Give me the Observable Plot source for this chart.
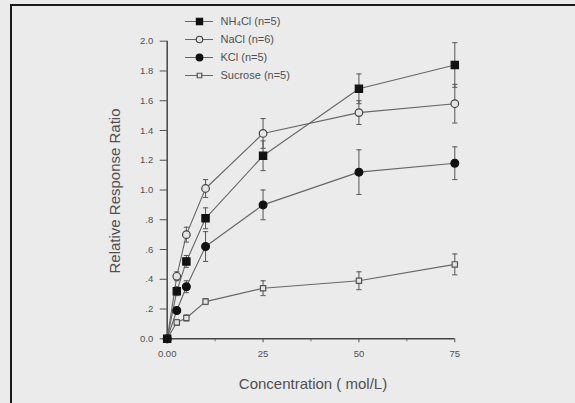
<!DOCTYPE html>
<html>
<head>
<meta charset="utf-8">
<script src="https://cdn.jsdelivr.net/npm/d3@7"></script>
<script src="https://cdn.jsdelivr.net/npm/@observablehq/plot@0.6"></script>
<style>
  html, body { margin: 0; padding: 0; background: #ebebeb; }
  #wrap { position: relative; width: 575px; height: 403px; overflow: hidden; background: #ebebeb; font-family: "Liberation Sans", Arial, sans-serif; }
  #frame { position: absolute; left: 10px; top: 4px; right: -5px; bottom: -5px; border-top: 2px solid #1a1a1a; border-left: 2px solid #1a1a1a; }
  #chart, #legend { position: absolute; left: 0; top: 0; }
  #legend { left: 170px; }
  svg { background: transparent !important; }
</style>
</head>
<body>
<div id="wrap">
  <div id="frame"></div>
  <div id="chart"></div>
  <div id="legend"></div>
</div>
<script>
// Concentrations (mol/L x axis values)
const conc = [0, 2.5, 5, 10, 25, 50, 75];
const seriesNames = ["NH\u2084Cl (n=5)", "NaCl (n=6)", "KCl (n=5)", "Sucrose (n=5)"];

// Relative response ratio means
const nh4cl   = [0, 0.32, 0.52, 0.81, 1.23, 1.68, 1.84];
const nacl    = [0, 0.42, 0.70, 1.01, 1.38, 1.52, 1.58];
const kcl     = [0, 0.19, 0.35, 0.62, 0.90, 1.12, 1.18];
const sucrose = [0, 0.11, 0.14, 0.25, 0.34, 0.39, 0.50];

// Error (half-range of error bars)
const nh4clErr   = [0, 0.03, 0.04, 0.07, 0.10, 0.10, 0.15];
const naclErr    = [0, 0.03, 0.05, 0.06, 0.10, 0.08, 0.13];
const kclErr     = [0, 0.02, 0.04, 0.10, 0.10, 0.15, 0.11];
const sucroseErr = [0, 0.02, 0.02, 0.02, 0.05, 0.06, 0.07];

const yTicks = [0, 0.2, 0.4, 0.6, 0.8, 1.0, 1.2, 1.4, 1.6, 1.8, 2.0];
const xTicks = [0, 25, 50, 75];
const xMinorTicks = [12.5, 37.5, 62.5];

const allValues = [nh4cl, nacl, kcl, sucrose];
const allErrs = [nh4clErr, naclErr, kclErr, sucroseErr];

const rows = [];
seriesNames.forEach((s, i) => {
  conc.forEach((c, j) => {
    rows.push({series: s, x: c, y: allValues[i][j], err: allErrs[i][j]});
  });
});

const capSymbol = {
  draw(context, size) {
    const h = Math.sqrt(size / Math.PI);
    context.moveTo(-h, 0);
    context.lineTo(h, 0);
  }
};

const styles = {
  [seriesNames[0]]: {symbol: "square", fill: "#111", stroke: "#111", r: 4.1},
  [seriesNames[1]]: {symbol: "circle", fill: "#e4e4e4", stroke: "#444", r: 3.8},
  [seriesNames[2]]: {symbol: "circle", fill: "#111", stroke: "#111", r: 3.9},
  [seriesNames[3]]: {symbol: "square", fill: "#e4e4e4", stroke: "#555", r: 3.0}
};

const errRows = rows.filter(d => d.err > 0);
const font = "Liberation Sans, Arial, sans-serif";

const fmtY = d => d === 0 ? "0.0" : (d < 1 ? d.toFixed(1).slice(1) : d.toFixed(1));

const dotMarks = seriesNames.slice().reverse().map(s =>
  Plot.dot(rows.filter(d => d.series === s), {
    x: "x", y: "y",
    symbol: styles[s].symbol, r: styles[s].r,
    fill: styles[s].fill, stroke: styles[s].stroke, strokeWidth: 1.2
  })
);

const chart = Plot.plot({
  width: 575,
  height: 403,
  marginLeft: 166.7,
  marginRight: 120.7,
  marginTop: 40.7,
  marginBottom: 64.7,
  style: {background: "transparent", fontFamily: font},
  x: {type: "linear", domain: [0, 75]},
  y: {type: "linear", domain: [0, 2]},
  marks: [
    Plot.axisY({ticks: yTicks, tickFormat: fmtY, tickSize: 7, tickPadding: 7, fontSize: 9.5, color: "#505050", label: null}),
    Plot.axisX({ticks: xTicks, tickFormat: d => d === 0 ? "0.00" : String(d), tickSize: 4, tickPadding: 7, fontSize: 9.5, color: "#505050", label: null}),
    Plot.axisX({ticks: xMinorTicks, tickSize: 3, text: null, color: "#777", label: null}),
    Plot.ruleX([0], {stroke: "#444", strokeWidth: 1.5}),
    Plot.ruleY([0], {stroke: "#444", strokeWidth: 1.5}),
    Plot.line(rows, {x: "x", y: "y", z: "series", stroke: "#666", strokeWidth: 1.1}),
    Plot.ruleX(errRows, {x: "x", y1: d => d.y - d.err, y2: d => d.y + d.err, stroke: "#555", strokeWidth: 1}),
    Plot.dot(errRows, {x: "x", y: d => d.y + d.err, symbol: capSymbol, r: 2.6, stroke: "#555", strokeWidth: 1}),
    Plot.dot(errRows, {x: "x", y: d => d.y - d.err, symbol: capSymbol, r: 2.6, stroke: "#555", strokeWidth: 1}),
    ...dotMarks,
    Plot.text(["Relative Response Ratio"], {frameAnchor: "left", textAnchor: "middle", lineAnchor: "middle", rotate: -90, dx: -52, dy: 1, fontSize: 15, fill: "#505050"}),
    Plot.text(["Concentration ( mol/L)"], {frameAnchor: "bottom", textAnchor: "middle", lineAnchor: "middle", dy: 45, dx: 2, fontSize: 15, fill: "#505050"})
  ]
});
document.getElementById("chart").appendChild(chart);

// Legend
const legendRows = seriesNames.map(s => ({series: s}));
const legend = Plot.plot({
  width: 200,
  height: 90,
  marginLeft: 15,
  marginRight: 157,
  marginTop: 21,
  marginBottom: 15,
  style: {background: "transparent", fontFamily: font},
  x: {domain: [0, 1], axis: null},
  y: {type: "point", domain: seriesNames, axis: null, padding: 0},
  marks: [
    Plot.ruleY(legendRows, {y: "series", x1: 0, x2: 1, stroke: "#666", strokeWidth: 1}),
    ...seriesNames.map(s => Plot.dot([{series: s}], {
      x: 0.5, y: "series", symbol: styles[s].symbol, r: styles[s].r * 0.85,
      fill: styles[s].fill, stroke: styles[s].stroke, strokeWidth: 1.2
    })),
    Plot.text(legendRows, {x: 1, y: "series", text: "series", textAnchor: "start", dx: 7, fontSize: 11, fill: "#505050"})
  ]
});
document.getElementById("legend").appendChild(legend);
</script>
</body>
</html>
